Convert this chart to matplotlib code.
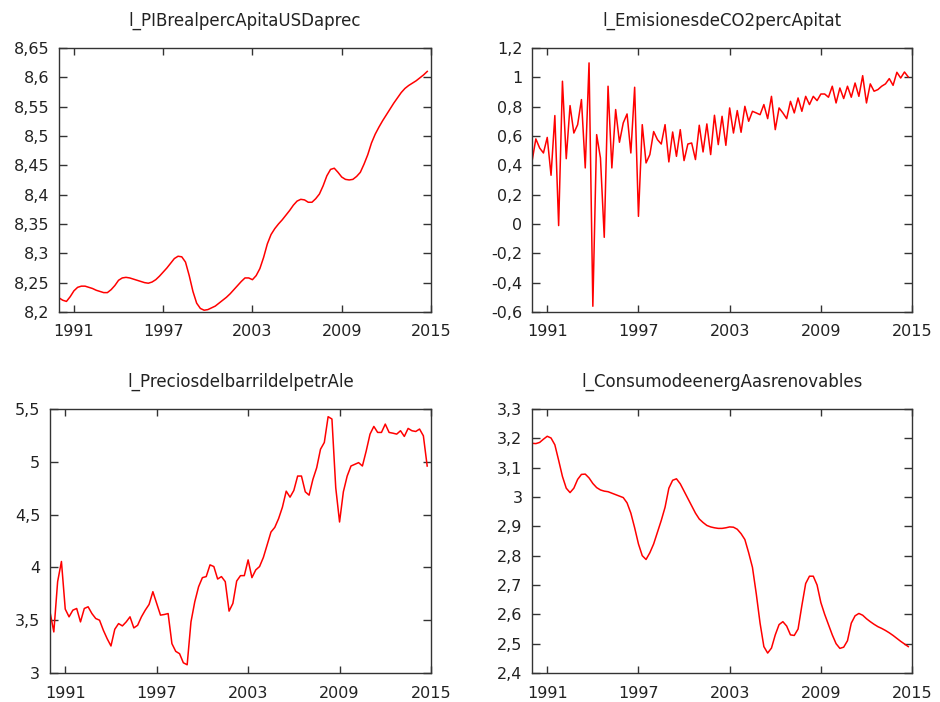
import numpy as np
import matplotlib
matplotlib.use("Agg")
import matplotlib.pyplot as plt
from matplotlib.ticker import MultipleLocator, FuncFormatter


# =====================================================
# DATA (quarterly, 1990Q1 - 2014Q4)
# =====================================================

start_year = 1990
n_quarters = 100

pib = [
    8.224, 8.220, 8.218, 8.226, 8.236, 8.242, 8.244, 8.244, 8.242, 8.240,
    8.237, 8.235, 8.233, 8.233, 8.238, 8.245, 8.254, 8.258, 8.259, 8.258,
    8.256, 8.254, 8.252, 8.250, 8.249, 8.251, 8.255, 8.261, 8.268, 8.275,
    8.283, 8.291, 8.295, 8.294, 8.285, 8.262, 8.235, 8.215, 8.206, 8.203,
    8.204, 8.207, 8.210, 8.215, 8.220, 8.225, 8.231, 8.238, 8.245, 8.252,
    8.258, 8.258, 8.255, 8.262, 8.274, 8.293, 8.316, 8.332, 8.342, 8.350,
    8.357, 8.365, 8.373, 8.382, 8.389, 8.392, 8.391, 8.387, 8.387, 8.393,
    8.401, 8.415, 8.432, 8.443, 8.445, 8.438, 8.430, 8.426, 8.425, 8.426,
    8.431, 8.438, 8.452, 8.468, 8.488, 8.503, 8.515, 8.526, 8.536, 8.546,
    8.556, 8.565, 8.574, 8.581, 8.586, 8.590, 8.594, 8.599, 8.604, 8.610,
]

co2 = [
    0.427, 0.580, 0.518, 0.484, 0.590, 0.332, 0.739, -0.011, 0.973, 0.445,
    0.807, 0.620, 0.677, 0.848, 0.382, 1.098, -0.561, 0.609, 0.450, -0.091,
    0.939, 0.382, 0.780, 0.557, 0.689, 0.750, 0.484, 0.932, 0.052, 0.677,
    0.416, 0.473, 0.630, 0.575, 0.545, 0.677, 0.423, 0.627, 0.461, 0.643,
    0.432, 0.545, 0.552, 0.439, 0.673, 0.491, 0.682, 0.473, 0.741, 0.541,
    0.734, 0.536, 0.791, 0.620, 0.773, 0.625, 0.802, 0.700, 0.768, 0.757,
    0.745, 0.814, 0.718, 0.870, 0.643, 0.791, 0.757, 0.718, 0.836, 0.757,
    0.859, 0.768, 0.870, 0.814, 0.870, 0.841, 0.886, 0.886, 0.864, 0.939,
    0.825, 0.927, 0.855, 0.939, 0.864, 0.961, 0.870, 1.011, 0.825, 0.955,
    0.905, 0.916, 0.939, 0.955, 0.991, 0.945, 1.034, 0.995, 1.036, 1.002,
]

petroleo = [
    3.579, 3.389, 3.865, 4.056, 3.605, 3.532, 3.595, 3.611, 3.484, 3.611,
    3.627, 3.563, 3.516, 3.500, 3.405, 3.325, 3.256, 3.414, 3.468, 3.446,
    3.484, 3.532, 3.427, 3.452, 3.532, 3.595, 3.649, 3.770, 3.659, 3.548,
    3.554, 3.563, 3.278, 3.205, 3.183, 3.097, 3.078, 3.484, 3.675, 3.817,
    3.903, 3.913, 4.024, 4.008, 3.890, 3.913, 3.865, 3.586, 3.659, 3.871,
    3.922, 3.922, 4.071, 3.903, 3.976, 4.008, 4.094, 4.214, 4.335, 4.379,
    4.462, 4.570, 4.722, 4.665, 4.729, 4.865, 4.865, 4.716, 4.684, 4.833,
    4.944, 5.119, 5.183, 5.427, 5.405, 4.754, 4.430, 4.716, 4.865, 4.960,
    4.976, 4.992, 4.960, 5.103, 5.262, 5.335, 5.278, 5.278, 5.357, 5.278,
    5.271, 5.262, 5.294, 5.240, 5.316, 5.294, 5.287, 5.310, 5.246, 4.960,
]

renovables = [
    3.183, 3.182, 3.186, 3.197, 3.207, 3.201, 3.178, 3.125, 3.070, 3.030,
    3.015, 3.030, 3.060, 3.077, 3.078, 3.065, 3.046, 3.032, 3.024, 3.020,
    3.018, 3.013, 3.008, 3.003, 2.998, 2.980, 2.945, 2.895, 2.840, 2.800,
    2.787, 2.810, 2.840, 2.880, 2.920, 2.965, 3.030, 3.057, 3.062, 3.045,
    3.020, 2.995, 2.970, 2.945, 2.925, 2.913, 2.903, 2.898, 2.895, 2.893,
    2.893, 2.895, 2.898, 2.897, 2.890, 2.875, 2.855, 2.810, 2.760, 2.670,
    2.570, 2.490, 2.468, 2.485, 2.530, 2.565, 2.575, 2.560, 2.530, 2.528,
    2.550, 2.630, 2.705, 2.730, 2.730, 2.700, 2.640, 2.600, 2.565, 2.530,
    2.500, 2.484, 2.488, 2.510, 2.570, 2.595, 2.603, 2.597, 2.585, 2.575,
    2.566, 2.558, 2.552, 2.545, 2.537, 2.528, 2.518, 2.508, 2.499, 2.490,
]

years = start_year + np.arange(n_quarters) / 4.0


# =====================================================
# HELPERS
# =====================================================

text_color = "#222222"


def comma_fmt(v, pos):
    s = f"{round(v, 6):g}".replace(".", ",")
    return "0" if s == "-0" else s


def draw_panel(ax, values, title, ymin, ymax, step):
    ax.plot(
        years,
        values,
        color="#ff0000",
        linewidth=1.1
    )
    ax.set_xlim(1990, 2015)
    ax.set_ylim(ymin, ymax)
    ax.set_xticks([1991, 1997, 2003, 2009, 2015])
    ax.yaxis.set_major_locator(MultipleLocator(step))
    ax.yaxis.set_major_formatter(FuncFormatter(comma_fmt))
    ax.tick_params(
        axis="both",
        direction="in",
        top=True,
        right=True,
        labelsize=11.5,
        labelcolor=text_color,
        color="#333333",
        width=1.0
    )
    ax.tick_params(axis="y", length=6, pad=7)
    ax.tick_params(axis="x", length=5, pad=9)
    for spine in ax.spines.values():
        spine.set_color("#333333")
        spine.set_linewidth(1.0)
    ax.set_title(
        title,
        fontsize=12,
        color=text_color,
        pad=16
    )


# =====================================================
# FIGURE
# =====================================================

plt.rcParams["font.family"] = ["DejaVu Sans"]

fig = plt.figure(
    figsize=(9.4, 7.02),
    dpi=100
)

ax1 = fig.add_axes([0.0628, 0.5556, 0.3957, 0.3761])
ax2 = fig.add_axes([0.5660, 0.5556, 0.4043, 0.3761])
ax3 = fig.add_axes([0.0532, 0.0413, 0.4053, 0.3761])
ax4 = fig.add_axes([0.5660, 0.0413, 0.4043, 0.3761])

draw_panel(ax1, pib, "l_PIBrealpercApitaUSDaprec", 8.2, 8.65, 0.05)
draw_panel(ax2, co2, "l_EmisionesdeCO2percApitat", -0.6, 1.2, 0.2)
draw_panel(ax3, petroleo, "l_PreciosdelbarrildelpetrAle", 3.0, 5.5, 0.5)
draw_panel(ax4, renovables, "l_ConsumodeenergAasrenovables", 2.4, 3.3, 0.1)

fig.savefig("out.png", dpi=100)
plt.close(fig)
